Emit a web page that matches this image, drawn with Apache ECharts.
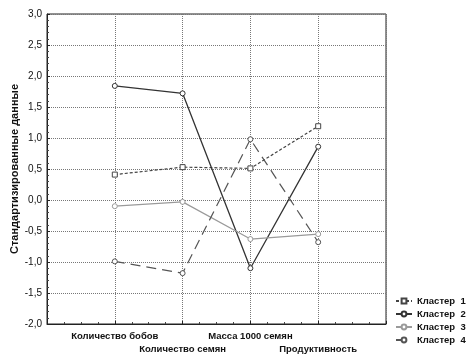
<!DOCTYPE html>
<html><head><meta charset="utf-8">
<script src="https://cdn.jsdelivr.net/npm/echarts@6/dist/echarts.min.js"></script>
<style>html,body{margin:0;padding:0;background:#fff}#c{width:468px;height:360px}</style>
</head><body><div id="c"></div>
<script>
const categories = ['Количество бобов','Количество семян','Масса 1000 семян','Продуктивность'];
const seriesNames = ['Кластер  1','Кластер  2','Кластер  3','Кластер  4'];
const cluster1 = [0.41, 0.53, 0.51, 1.19];
const cluster2 = [1.84, 1.72, -1.10, 0.86];
const cluster3 = [-0.10, -0.03, -0.63, -0.55];
const cluster4 = [-0.99, -1.18, 0.98, -0.68];
const yTicks = [-2, -1.5, -1, -0.5, 0, 0.5, 1, 1.5, 2, 2.5, 3];

const toPts = arr => arr.map((v, i) => [i + 1, v]);
const styles = [
  {color:'#444', type:[3,2], width:1.2, symbol:'rect'},
  {color:'#333', type:'solid', width:1.3, symbol:'circle'},
  {color:'#9a9a9a', type:'solid', width:1.2, symbol:'circle'},
  {color:'#555', type:[10,6], width:1.2, symbol:'circle'}
];
const data = [cluster1, cluster2, cluster3, cluster4];

const chart = echarts.init(document.getElementById('c'), null, {renderer:'canvas'});
chart.setOption({
  animation:false,
  backgroundColor:'#fff',
  grid:{left:47, right:82, top:14, bottom:36, show:true, borderColor:'#222', borderWidth:1, containLabel:false, outerBoundsMode:'none'},
  legend:{
    orient:'vertical', left:390, top:291, itemWidth:16, itemHeight:6, itemGap:3,
    textStyle:{fontFamily:'Liberation Sans, Arial', fontWeight:'bold', fontSize:9.5, color:'#111'},
    data: seriesNames
  },
  xAxis:{
    type:'value', min:0, max:5, interval:1,
    axisLine:{onZero:false, lineStyle:{color:'#222'}},
    axisTick:{show:true, inside:true, length:3, lineStyle:{color:'#222'}},
    minorTick:{show:true, splitNumber:4, length:2, lineStyle:{color:'#444'}},
    splitLine:{show:true, lineStyle:{color:'#777', type:[1,1], width:1}},
    axisLabel:{
      fontFamily:'Liberation Sans, Arial', fontWeight:'bold', fontSize:9.5, color:'#111',
      margin:6, lineHeight:13,
      formatter: v => { const i = Math.round(v) - 1; if (i < 0 || i >= categories.length) return ''; return (i % 2 ? '\n' : '') + categories[i]; }
    }
  },
  yAxis:{
    type:'value', min:-2, max:3, interval:0.5,
    name:'Стандартизированные данные', nameLocation:'middle', nameGap:27, nameMoveOverlap:false,
    nameTextStyle:{fontFamily:'Liberation Sans, Arial', fontWeight:'bold', fontSize:11, color:'#111'},
    axisLine:{show:true, onZero:false, lineStyle:{color:'#222'}},
    axisTick:{show:true, inside:true, length:3, lineStyle:{color:'#222'}},
    minorTick:{show:true, splitNumber:5, length:2, lineStyle:{color:'#444'}},
    splitLine:{show:true, lineStyle:{color:'#777', type:[1,1], width:1}},
    axisLabel:{
      fontFamily:'Liberation Sans, Arial', fontSize:10, color:'#111', margin:5,
      formatter: v => yTicks.includes(+v.toFixed(1)) ? v.toFixed(1).replace('.', ',') : ''
    }
  },
  series: data.map((d, k) => ({
    name: seriesNames[k], type:'line', data: toPts(d),
    symbol: styles[k].symbol, symbolSize: 5,
    itemStyle:{color:'#fff', borderColor:styles[k].color, borderWidth:1},
    lineStyle:{color:styles[k].color, type:styles[k].type, width:styles[k].width},
    emphasis:{disabled:true}
  }))
});
</script></body></html>
